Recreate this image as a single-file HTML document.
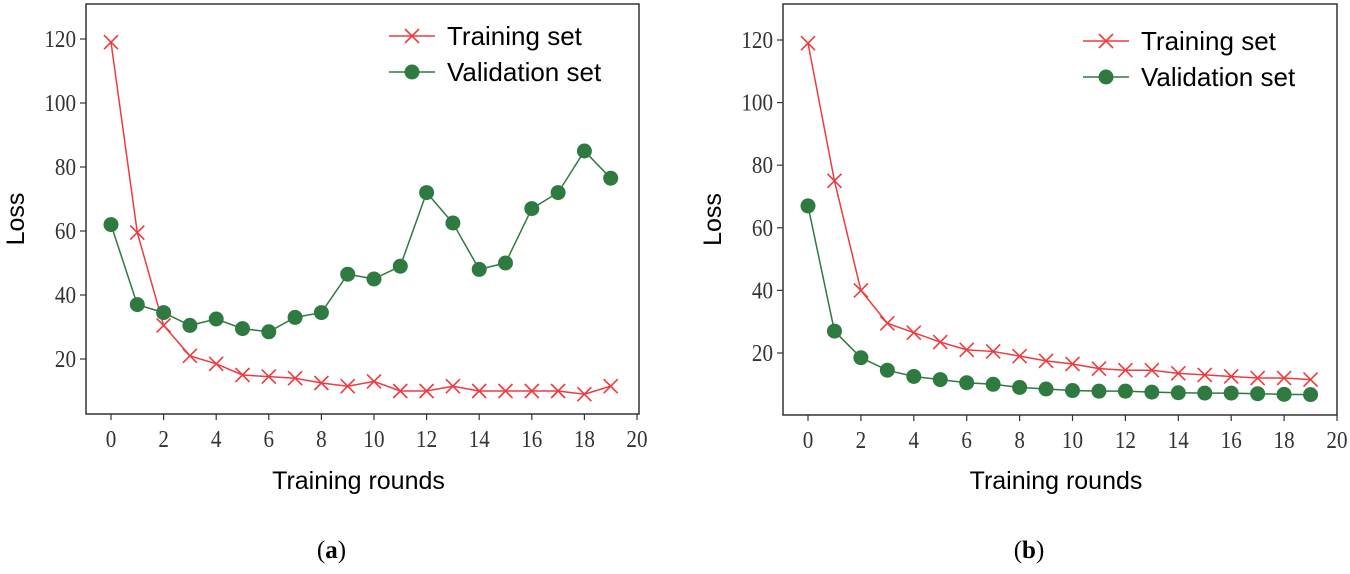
<!DOCTYPE html>
<html><head><meta charset="utf-8"><style>
body{margin:0;background:#fff;width:1350px;height:569px;overflow:hidden}
svg text{font-family:"Liberation Serif",serif}
.sans{font-family:"Liberation Sans",sans-serif}
</style></head><body>
<svg id="s" width="1350" height="569" xmlns="http://www.w3.org/2000/svg"></svg>
<script>
const rounds=[0,1,2,3,4,5,6,7,8,9,10,11,12,13,14,15,16,17,18,19];
const xTicks=[0,2,4,6,8,10,12,14,16,18,20];
const yTicks=[20,40,60,80,100,120];
const trainA=[119,59.5,30.5,21,18.5,15,14.5,14,12.5,11.5,13,10,10,11.5,10,10,10,10,9,11.5];
const valA=[62,37,34.5,30.5,32.5,29.5,28.5,33,34.5,46.5,45,49,72,62.5,48,50,67,72,85,76.5];
const trainB=[119,75,40,29.5,26.5,23.5,21,20.5,19,17.5,16.5,15,14.5,14.5,13.5,13,12.5,12,12,11.5];
const valB=[67,27,18.5,14.5,12.5,11.5,10.5,10,9,8.5,8,7.8,7.8,7.5,7.3,7.2,7.2,7,6.8,6.7];
const NS="http://www.w3.org/2000/svg";
const svg=document.getElementById('s');
function el(t,a,p){const e=document.createElementNS(NS,t);for(const k in a)e.setAttribute(k,a[k]);(p||svg).appendChild(e);return e;}
const RED="#ee3b3f",GREEN="#2f7a40";
function chart(cfg){
  const g=el('g',{});
  
  
  const X=v=>cfg.x0+(cfg.x20-cfg.x0)*v/20;
  const Y=v=>cfg.y20-(v-20)*(cfg.y20-cfg.y120)/100;
  const fr=el('rect',{x:cfg.L,y:4,width:cfg.R-cfg.L,height:cfg.B-4,fill:'none',stroke:'#333','stroke-width':1.5},g);
  
  
  xTicks.forEach(t=>{
    el('line',{x1:X(t),x2:X(t),y1:cfg.B,y2:cfg.B+6,stroke:'#333','stroke-width':1.2},g);
    const tx=el('text',{x:X(t),y:cfg.B+33,'text-anchor':'middle','font-size':24,fill:'#333',transform:`translate(${X(t)*0.12},0) scale(0.88,1)`},g);
    tx.textContent=t;
    
    
  });
  yTicks.forEach(t=>{
    el('line',{x1:cfg.L-6,x2:cfg.L,y1:Y(t),y2:Y(t),stroke:'#333','stroke-width':1.2},g);
    const tx=el('text',{x:cfg.L-10,y:Y(t)+8,'text-anchor':'end','font-size':24,fill:'#333',transform:`translate(${(cfg.L-10)*0.12},0) scale(0.88,1)`},g);
    tx.textContent=t;
    
    
  });
  const yl=el('text',{x:0,y:0,'text-anchor':'middle','font-size':25,class:'sans',transform:`translate(${cfg.L-62},${(cfg.B+4)/2+10}) rotate(-90)`},g);
  yl.textContent='Loss';
  
  
  const xl=el('text',{x:(cfg.L+cfg.R)/2-4,y:489,'text-anchor':'middle','font-size':25,class:'sans'},g);
  xl.textContent='Training rounds';
  
  
  const cap=el('text',{x:(cfg.L+cfg.R)/2-31,y:558,'text-anchor':'middle','font-size':25},g);
  cap.innerHTML='(<tspan font-weight="bold">'+cfg.cap+'</tspan>)';
  
  
  const pv=el('polyline',{points:rounds.map((r,i)=>X(r)+','+Y(cfg.val[i])).join(' '),fill:'none',stroke:GREEN,'stroke-width':1.5},g);
  
  
  const pt=el('polyline',{points:rounds.map((r,i)=>X(r)+','+Y(cfg.train[i])).join(' '),fill:'none',stroke:RED,'stroke-width':1.5},g);
  
  
  rounds.forEach((r,i)=>{
    const c=el('circle',{cx:X(r),cy:Y(cfg.val[i]),r:7.5,fill:GREEN},g);
    
    
  });
  rounds.forEach((r,i)=>{
    const x=X(r),y=Y(cfg.train[i]);
    const m=el('path',{d:`M${x-7} ${y-7}L${x+7} ${y+7}M${x-7} ${y+7}L${x+7} ${y-7}`,stroke:RED,'stroke-width':1.6,fill:'none'},g);
    
    
  });
  const lg=el('g',{},g);
  
  
  const lx=cfg.lx;
  el('line',{x1:lx,x2:lx+46,y1:cfg.ly,y2:cfg.ly,stroke:RED,'stroke-width':1.5},lg);
  el('path',{d:`M${lx+16} ${cfg.ly-7}L${lx+30} ${cfg.ly+7}M${lx+16} ${cfg.ly+7}L${lx+30} ${cfg.ly-7}`,stroke:RED,'stroke-width':1.6},lg);
  const t1=el('text',{x:lx+58,y:cfg.ly+9,'font-size':26,class:'sans'},lg);t1.textContent='Training set';
  
  
  el('line',{x1:lx,x2:lx+46,y1:cfg.ly+36,y2:cfg.ly+36,stroke:GREEN,'stroke-width':1.5},lg);
  el('circle',{cx:lx+23,cy:cfg.ly+36,r:7.5,fill:GREEN},lg);
  const t2=el('text',{x:lx+58,y:cfg.ly+45,'font-size':26,class:'sans'},lg);t2.textContent='Validation set';
  
  
}
chart({name:'chart-a',cap:'a',L:86,R:639,B:414,x0:111,x20:637,y20:359,y120:39,train:trainA,val:valA,lx:389,ly:36});
chart({name:'chart-b',cap:'b',L:783,R:1337,B:415,x0:808,x20:1337,y20:353,y120:40,train:trainB,val:valB,lx:1083,ly:41});
</script>
</body></html>
